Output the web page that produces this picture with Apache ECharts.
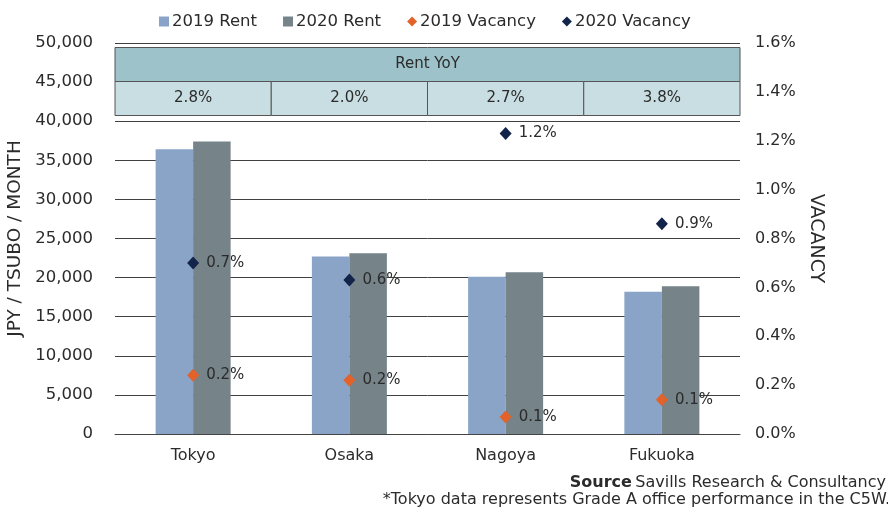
<!DOCTYPE html>
<html>
<head>
<meta charset="utf-8">
<script src="https://cdn.jsdelivr.net/npm/echarts@6/dist/echarts.min.js"></script>
<style>
  html, body { margin: 0; padding: 0; background: #fff; }
  #chart { width: 888px; height: 512px; }
</style>
</head>
<body>
<div id="chart"></div>
<script>
  // data
  const cities = ['Tokyo', 'Osaka', 'Nagoya', 'Fukuoka'];
  const rent2019 = [36400, 22700, 20100, 18200];
  const rent2020 = [37400, 23100, 20700, 18900];
  const vacancy2019 = [0.24, 0.22, 0.07, 0.14];
  const vacancy2020 = [0.70, 0.63, 1.23, 0.86];
  const rentYoY = ['2.8%', '2.0%', '2.7%', '3.8%'];
  const tableTitle = 'Rent YoY';
  const sourceLine = 'Savills Research & Consultancy';
  const noteLine = '*Tokyo data represents Grade A office performance in the C5W.';

  const FONT = 'DejaVu Sans';
  const TXT = '#2b2b2b';
  const GRID = { left: 115, right: 148, top: 43, bottom: 78, outerBoundsMode: 'none' };

  const chart = echarts.init(document.getElementById('chart'));

  const vacLabel = {
    show: true,
    position: 'right',
    distance: 7,
    fontSize: 15,
    color: TXT,
    opacity: 1,
    fontFamily: FONT,
    formatter: p => p.value.toFixed(1) + '%'
  };

  chart.setOption({
    animation: false,
    textStyle: { fontFamily: FONT, color: TXT },
    legend: {
      left: 154,
      top: 8,
      itemWidth: 10,
      itemHeight: 10,
      itemGap: 26,
      textStyle: { fontSize: 16.5, color: TXT, padding: [0, 0, 0, -2] },
      data: [
        { name: '2019 Rent', icon: 'rect' },
        { name: '2020 Rent', icon: 'rect' },
        { name: '2019 Vacancy', icon: 'diamond' },
        { name: '2020 Vacancy', icon: 'diamond' }
      ]
    },
    grid: GRID,
    xAxis: {
      type: 'category',
      data: cities,
      axisTick: { show: false },
      axisLine: { lineStyle: { color: '#444', width: 1 } },
      axisLabel: { fontSize: 16, color: TXT, margin: 14 }
    },
    yAxis: [
      {
        type: 'value',
        min: 0,
        max: 50000,
        interval: 5000,
        name: 'JPY / TSUBO / MONTH',
        nameLocation: 'middle',
        nameGap: 89,
        nameTextStyle: { fontSize: 18.5, color: TXT },
        axisLine: { show: false },
        axisTick: { show: false },
        axisLabel: {
          fontSize: 16.5,
          color: TXT,
          margin: 22,
          formatter: v => v.toLocaleString('en-US')
        },
        splitLine: { lineStyle: { color: '#404040', width: 1 } }
      },
      {
        type: 'value',
        min: 0,
        max: 1.6,
        interval: 0.2,
        name: 'VACANCY',
        nameLocation: 'middle',
        nameGap: 62,
        nameRotate: -90,
        nameTextStyle: { fontSize: 19, color: TXT },
        axisLine: { show: false },
        axisTick: { show: false },
        splitLine: { show: false },
        axisLabel: {
          fontSize: 16,
          color: TXT,
          margin: 15,
          formatter: v => v.toFixed(1) + '%'
        }
      }
    ],
    series: [
      {
        name: '2019 Rent',
        type: 'bar',
        data: rent2019,
        barGap: '0%',
        barCategoryGap: '52%',
        itemStyle: { color: '#89a4c7' }
      },
      {
        name: '2020 Rent',
        type: 'bar',
        data: rent2020,
        itemStyle: { color: '#768389' }
      },
      {
        name: '2019 Vacancy',
        type: 'scatter',
        yAxisIndex: 1,
        data: vacancy2019,
        symbol: 'diamond',
        symbolSize: [12, 13],
        itemStyle: { color: '#e2622a', opacity: 1 },
        label: vacLabel,
        z: 5
      },
      {
        name: '2020 Vacancy',
        type: 'scatter',
        yAxisIndex: 1,
        data: vacancy2020,
        symbol: 'diamond',
        symbolSize: [12, 13],
        itemStyle: { color: '#13244a', opacity: 1 },
        label: vacLabel,
        z: 5
      }
    ]
  });

  // Rent YoY table laid over the top of the plot, one cell per category
  function drawTable() {
    const centers = cities.map(c => chart.convertToPixel({ xAxisIndex: 0 }, c));
    const band = centers.length > 1 ? centers[1] - centers[0] : 888 - GRID.left - GRID.right;
    const plotLeft = centers[0] - band / 2;
    const plotRight = centers[centers.length - 1] + band / 2;
    const top = chart.convertToPixel({ yAxisIndex: 0 }, 50000) + 4.5;
    const rowH = 34;
    const border = { stroke: '#555', lineWidth: 1 };
    const els = [];

    els.push({
      type: 'rect',
      shape: { x: plotLeft, y: top, width: plotRight - plotLeft, height: rowH },
      style: Object.assign({ fill: '#9dc2c9' }, border),
      z: 10
    });
    els.push({
      type: 'text',
      x: (plotLeft + plotRight) / 2,
      y: top + rowH / 2,
      style: {
        text: tableTitle, fontSize: 15, fontFamily: FONT, fill: TXT,
        align: 'center', verticalAlign: 'middle'
      },
      z: 11
    });
    rentYoY.forEach((t, i) => {
      const x0 = centers[i] - band / 2;
      els.push({
        type: 'rect',
        shape: { x: x0, y: top + rowH, width: band, height: rowH },
        style: Object.assign({ fill: '#c9dee2' }, border),
        z: 10
      });
      els.push({
        type: 'text',
        x: centers[i],
        y: top + rowH * 1.5,
        style: {
          text: t, fontSize: 15, fontFamily: FONT, fill: TXT,
          align: 'center', verticalAlign: 'middle'
        },
        z: 11
      });
    });

    // source and footnote, both flush to the right edge
    els.push({
      type: 'text',
      right: 2,
      top: 475,
      style: {
        rich: {
          b: { fontWeight: 'bold', fontSize: 16, fontFamily: FONT, fill: TXT },
          n: { fontSize: 16, fontFamily: FONT, fill: TXT }
        },
        text: '{b|Source} {n|' + sourceLine + '}'
      }
    });
    els.push({
      type: 'text',
      right: -2,
      top: 492,
      style: { text: noteLine, fontSize: 16, fontFamily: FONT, fill: TXT }
    });

    chart.setOption({ graphic: els });
  }

  drawTable();
</script>
</body>
</html>
